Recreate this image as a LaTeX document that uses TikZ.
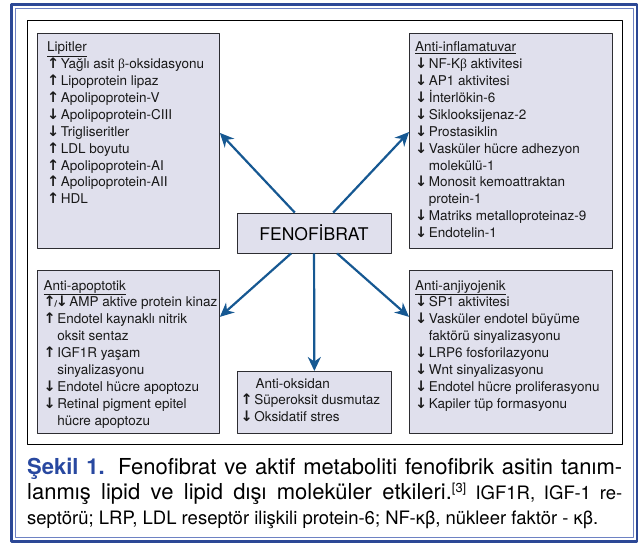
\documentclass[tikz,border=0pt]{standalone}
\usepackage{fontspec}
\setmainfont{TeX Gyre Heros}
\newfontfamily\arrowfont{DejaVu Sans}
\newfontfamily\betafont{Liberation Serif}
\usetikzlibrary{arrows.meta}

\definecolor{frameblue}{RGB}{44,72,150}
\definecolor{framelight}{RGB}{110,130,195}
\definecolor{arrowblue}{RGB}{22,88,146}
\definecolor{capblue}{RGB}{40,72,160}
\definecolor{boxfill}{RGB}{224,224,237}
\definecolor{boxline}{RGB}{45,45,50}

\newcommand{\arrfont}{\arrowfont\bfseries\fontsize{14.5}{14.5}\selectfont}
\newcommand{\upar}{\makebox[13.6pt][l]{\arrfont ↑}}
\newcommand{\dnar}{\makebox[13.6pt][l]{\arrfont ↓}}
\newcommand{\updnar}{\makebox[25.7pt][l]{\arrfont ↑\kern-1.5pt
  {\fontsize{8}{8}\selectfont/}\kern-1.5pt↓}}
\newcommand{\cont}{\hspace*{13.6pt}}
\newcommand{\greekb}{{\betafont β}}
\newcommand{\boxfont}{\fontsize{13.5}{16.9}\selectfont}
\newcommand{\capfont}{\fontsize{22}{25}\selectfont}
\newcommand{\capsmall}{\fontsize{18.5}{25}\selectfont}

\tikzset{
  panel/.style = {draw = boxline, fill = boxfill, line width = .9pt,
    anchor = north west, inner sep = 0pt},
  paneltext/.style = {anchor = base west, inner sep = 0pt, font = \boxfont,
    text = black!90},
  captext/.style = {anchor = base west, inner sep = 0pt, font = \capfont},
  effect/.style = {-{Stealth[length = 14pt, width = 13pt]}, arrowblue,
    line width = 2.2pt}
}

\begin{document}
\begin{tikzpicture}[x = 1pt, y = -1pt, line join = round]
  \useasboundingbox (0, 0) rectangle (638, 544);
  \draw[frameblue, line width = 2.6pt] (11.5, 4.5) rectangle (637, 541.5);
  \draw[framelight, line width = 1pt] (15.5, 8) rectangle (633, 537.5);
  \draw[line width = .8pt] (27, 20) rectangle (622, 444);

  \node[panel, minimum width = 182pt, minimum height = 215pt] (lip)
  at (37, 33) {};
  \node[panel, minimum width = 203pt, minimum height = 215pt] (infl)
  at (409, 33) {};
  \node[panel, minimum width = 182pt, minimum height = 163pt] (apo)
  at (37, 270) {};
  \node[panel, minimum width = 203pt, minimum height = 163pt] (anj)
  at (409, 270) {};
  \node[panel, minimum width = 154pt, minimum height = 62pt] (oks)
  at (237, 371) {};
  \node[panel, minimum width = 154pt, minimum height = 40pt, anchor = center,
  font = \fontsize{17.5}{20}\selectfont] (fen) at (314, 233) {FENOFİBRAT};

  \node[paneltext] (liptext) at (47, 51.7) {\parbox[t]{220pt}{%
    \underline{Lipitler}\\
    \upar Yağlı asit \greekb-oksidasyonu\\
    \upar Lipoprotein lipaz\\
    \upar Apolipoprotein-V\\
    \dnar Apolipoprotein-CIII\\
    \dnar Trigliseritler\\
    \upar LDL boyutu\\
    \upar Apolipoprotein-AI\\
    \upar Apolipoprotein-AII\\
    \upar HDL}};

  \node[paneltext] (infltext) at (415, 51.7) {\parbox[t]{220pt}{%
    \underline{Anti-inflamatuvar}\\
    \dnar NF-K\greekb\ aktivitesi\\
    \dnar AP1 aktivitesi\\
    \dnar İnterlökin-6\\
    \dnar Siklooksijenaz-2\\
    \dnar Prostasiklin\\
    \dnar Vasküler hücre adhezyon\\
    \cont molekülü-1\\
    \dnar Monosit kemoattraktan\\
    \cont protein-1\\
    \dnar Matriks metalloproteinaz-9\\
    \dnar Endotelin-1}};

  \node[paneltext] (apotext) at (43.5, 290) {\parbox[t]{220pt}{%
    \underline{Anti-apoptotik}\\
    \updnar AMP aktive protein kinaz\\
    \upar Endotel kaynaklı nitrik\\
    \cont oksit sentaz\\
    \upar IGF1R yaşam\\
    \cont sinyalizasyonu\\
    \dnar Endotel hücre apoptozu\\
    \dnar Retinal pigment epitel\\
    \cont hücre apoptozu}};

  \node[paneltext] (anjtext) at (415, 290) {\parbox[t]{220pt}{%
    \underline{Anti-anjiyojenik}\\
    \dnar SP1 aktivitesi\\
    \dnar Vasküler endotel büyüme\\
    \cont faktörü sinyalizasyonu\\
    \dnar LRP6 fosforilazyonu\\
    \dnar Wnt sinyalizasyonu\\
    \dnar Endotel hücre proliferasyonu\\
    \dnar Kapiler tüp formasyonu}};

  \node[paneltext] (okstext) at (240.5, 388) {\parbox[t]{220pt}{%
    \hspace*{15pt}Anti-oksidan\\
    \upar Süperoksit dusmutaz\\
    \dnar Oksidatif stres}};

  \draw[effect] (fen) -- (lip.5);
  \draw[effect] (fen) -- (infl.175);
  \draw[effect] (fen) -- (apo.21);
  \draw[effect] (fen) -- (anj.161);
  \draw[effect] (fen) -- (oks);

  \node[captext] (capone) at (27, 474) {\makebox[595pt][s]{%
    \textcolor{capblue}{\textbf{Şekil 1.}} Fenofibrat ve aktif metaboliti
    fenofibrik asitin tanım-}};
  \node[captext] (captwo) at (27, 499) {\makebox[595pt][s]{%
    lanmış lipid ve lipid dışı moleküler etkileri.{\capsmall\textsuperscript{[3]}
    IGF1R, IGF-1 re-}}};
  \node[captext, font = \capsmall] (capthree) at (27, 524) {septörü; LRP, LDL
    reseptör ilişkili protein-6; NF-κβ, nükleer faktör - κβ.};
\end{tikzpicture}
\end{document}
